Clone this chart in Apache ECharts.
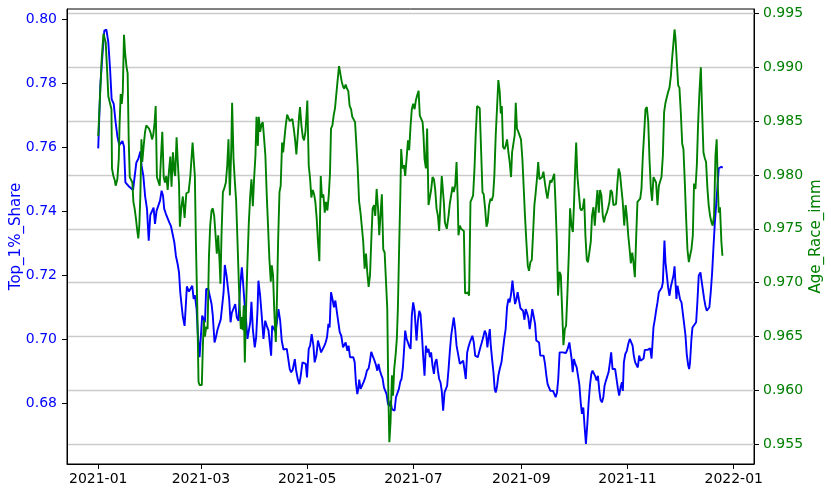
<!DOCTYPE html>
<html>
<head>
<meta charset="utf-8">
<script src="https://cdn.jsdelivr.net/npm/echarts@6/dist/echarts.min.js"></script>
<style>html,body{margin:0;padding:0;background:#fff}#c{width:831px;height:493px}</style>
</head>
<body>
<div id="c"></div>
<script>
// Day offsets are counted from 2021-01-01
const startDate = '2021-01-01';
const xTickLabels = ['2021-01','2021-03','2021-05','2021-07','2021-09','2021-11','2022-01'];
const leftTicks = [0.68, 0.70, 0.72, 0.74, 0.76, 0.78, 0.80];
const rightTicks = [0.955, 0.960, 0.965, 0.970, 0.975, 0.980, 0.985, 0.990, 0.995];
const leftName = 'Top_1%_Share';
const rightName = 'Age_Race_imm';

// Top_1%_Share: [dayOffset, value]
const top1Share = [
[0,0.7596],[1.2,0.7792],[2.4,0.7886],[3.5,0.7964],[4.7,0.7967],[5.8,0.7927],[6.8,0.7844],[7.7,0.775],[8.9,0.7735],[10.0,0.7677],
[11.0,0.7634],[12.1,0.7606],[12.9,0.7602],[13.9,0.7619],[14.8,0.7602],[15.6,0.749],[16.5,0.7492],[17.5,0.7478],[18.6,0.7473],[20.0,0.7466],
[21.1,0.747],[21.9,0.7552],[23.0,0.7563],[24.2,0.7586],[24.9,0.7542],[25.9,0.7511],[26.9,0.7448],[28.0,0.7407],[29.0,0.7308],[29.9,0.7388],
[30.9,0.7391],[31.8,0.7411],[32.6,0.736],[33.5,0.7401],[34.5,0.7407],[35.5,0.7433],[36.4,0.7464],[37.2,0.7449],[37.9,0.7407],[38.9,0.7391],
[39.9,0.7394],[40.8,0.7365],[41.8,0.7353],[42.9,0.7355],[43.7,0.7303],[44.6,0.7261],[45.6,0.7235],[46.4,0.7209],[47.1,0.7147],[47.9,0.7105],
[48.6,0.707],[49.6,0.7042],[50.4,0.7115],[50.9,0.7165],[52.1,0.7149],[53.2,0.7152],[54.0,0.7167],[54.8,0.7126],[55.5,0.7138],[56.5,0.7094],
[57.2,0.7016],[58.2,0.6944],[59.0,0.6944],[59.7,0.7074],[60.5,0.7068],[61.3,0.7053],[62.0,0.7157],[63.2,0.7157],[64.1,0.7162],[65.1,0.711],
[65.8,0.7074],[66.8,0.699],[67.6,0.7006],[68.5,0.703],[69.5,0.703],[70.4,0.7063],[71.2,0.7105],[72.0,0.7147],[72.7,0.7232],[73.7,0.7199],
[74.6,0.7199],[75.2,0.7126],[76.0,0.7053],[76.7,0.7082],[77.7,0.7086],[78.7,0.711],[79.6,0.7068],[80.6,0.7058],[81.5,0.7167],[82.5,0.7225],
[83.2,0.7176],[84.0,0.7115],[84.8,0.7068],[85.7,0.7001],[86.5,0.7003],[87.3,0.7053],[88.0,0.7117],[88.8,0.7032],[89.9,0.6975],[90.7,0.7006],
[91.5,0.7094],[92.0,0.7183],[93.0,0.7136],[93.9,0.7074],[94.9,0.7001],[95.9,0.7058],[96.8,0.7042],[97.8,0.7027],[98.7,0.7032],[99.3,0.6949],
[99.9,0.7042],[100.8,0.7048],[101.8,0.7024],[102.5,0.7048],[103.5,0.7094],[104.5,0.7058],[105.4,0.6996],[106.4,0.6968],[107.3,0.697],[108.3,0.697],
[109.2,0.6964],[110.0,0.6907],[110.8,0.6897],[111.7,0.6905],[112.9,0.6938],[113.6,0.6905],[114.6,0.6876],[115.5,0.686],[116.3,0.6886],[117.3,0.6928],
[118.2,0.6933],[119.2,0.6923],[119.9,0.6881],[120.9,0.697],[121.7,0.698],[122.6,0.7016],[123.6,0.698],[124.3,0.6928],[125.3,0.6949],[126.2,0.6996],
[127.0,0.698],[128.0,0.6959],[128.9,0.6964],[129.9,0.698],[130.6,0.699],[131.4,0.7006],[132.2,0.7048],[132.9,0.7037],[133.7,0.7147],[134.7,0.7121],
[135.4,0.71],[136.2,0.7121],[137.1,0.7084],[137.9,0.7089],[138.7,0.7022],[139.6,0.7011],[140.6,0.6975],[141.3,0.6975],[142.1,0.699],[143.1,0.6964],
[143.8,0.698],[144.6,0.6944],[145.4,0.694],[146.5,0.6944],[147.3,0.6928],[148.0,0.6865],[148.8,0.6829],[149.4,0.6845],[149.9,0.6874],[150.7,0.6845],
[151.5,0.6847],[152.4,0.6866],[153.4,0.6881],[154.3,0.6902],[155.3,0.6909],[156.1,0.6933],[156.8,0.6961],[157.6,0.6949],[158.5,0.6936],[159.5,0.692],
[160.3,0.6902],[161.0,0.6923],[161.8,0.6902],[162.6,0.6888],[163.3,0.6878],[164.1,0.685],[164.9,0.6855],[165.6,0.6829],[166.4,0.6798],[167.2,0.6791],
[167.9,0.6808],[168.7,0.6782],[169.4,0.6787],[170.2,0.6777],[171.0,0.6819],[171.9,0.6819],[172.7,0.6845],[173.5,0.6868],[174.2,0.6876],[175.0,0.6912],
[175.8,0.698],[176.3,0.7027],[177.1,0.7001],[177.9,0.699],[178.6,0.6978],[179.4,0.697],[180.1,0.7074],[180.9,0.7115],[181.7,0.7089],[182.8,0.6996],
[183.6,0.7058],[184.4,0.7089],[185.1,0.7079],[185.9,0.7016],[186.6,0.6949],[187.4,0.6886],[188.2,0.698],[188.9,0.6959],[189.7,0.697],[190.5,0.6944],
[191.2,0.6959],[192.0,0.6918],[192.8,0.6892],[193.5,0.6928],[194.3,0.6938],[195.1,0.6902],[195.8,0.6876],[196.6,0.6865],[197.3,0.6839],[198.1,0.6777],
[198.9,0.6834],[199.6,0.684],[200.4,0.6855],[201.2,0.6907],[201.9,0.6959],[202.7,0.7011],[203.5,0.7042],[204.2,0.7068],[205.0,0.7032],[205.8,0.698],
[206.7,0.698],[207.7,0.6923],[208.6,0.6923],[209.6,0.6933],[210.3,0.6907],[211.1,0.6876],[211.9,0.6959],[212.6,0.6975],[213.4,0.699],[214.2,0.7001],
[214.9,0.7011],[215.7,0.699],[216.5,0.6949],[217.2,0.6954],[218.0,0.6944],[218.8,0.6944],[219.5,0.6975],[220.3,0.699],[221.1,0.7006],[222.0,0.7027],
[222.8,0.7016],[223.5,0.6975],[224.1,0.7001],[224.9,0.7032],[225.4,0.6985],[226.2,0.6938],[227.0,0.6897],[227.7,0.6845],[228.3,0.6834],[229.1,0.6855],
[229.8,0.6886],[230.6,0.6907],[231.6,0.6928],[232.5,0.697],[233.3,0.7006],[234.0,0.7032],[234.8,0.71],[235.6,0.7126],[236.3,0.7115],[237.1,0.7141],
[237.9,0.7183],[238.6,0.7147],[239.4,0.711],[240.2,0.7126],[240.9,0.7147],[241.7,0.7121],[242.5,0.7097],[243.2,0.7102],[244.0,0.7089],[244.8,0.7061],
[245.5,0.7094],[246.3,0.7082],[247.0,0.7068],[247.8,0.7032],[248.6,0.7063],[249.3,0.7094],[250.1,0.71],[250.9,0.7048],[251.6,0.6996],[252.4,0.699],
[253.2,0.699],[253.9,0.6949],[254.9,0.6949],[255.8,0.6949],[256.6,0.6923],[257.4,0.6886],[258.1,0.686],[259.1,0.686],[259.7,0.6839],[260.4,0.6845],
[261.2,0.6839],[262.0,0.6829],[262.7,0.6819],[263.5,0.6834],[264.2,0.6876],[265.0,0.6959],[265.8,0.6964],[266.7,0.6959],[267.7,0.6959],[268.6,0.6957],
[269.6,0.697],[270.6,0.699],[271.3,0.699],[271.9,0.6938],[272.5,0.6897],[273.2,0.6938],[274.0,0.6923],[274.8,0.6912],[275.5,0.6907],[276.3,0.686],
[277.1,0.6803],[277.8,0.6767],[278.6,0.6787],[279.3,0.673],[280.1,0.6673],[280.9,0.6735],[281.6,0.6798],[282.4,0.6855],[283.2,0.6892],[283.9,0.6902],
[284.7,0.6902],[285.5,0.6884],[286.2,0.6871],[287.0,0.6886],[287.8,0.6839],[288.5,0.6811],[289.3,0.6803],[290.1,0.6819],[290.8,0.6855],[291.6,0.6871],
[292.3,0.6866],[293.1,0.6897],[293.9,0.6928],[294.6,0.6959],[295.4,0.6907],[296.2,0.6902],[296.9,0.6907],[297.7,0.6876],[298.5,0.6845],[299.2,0.6824],
[300.0,0.685],[300.8,0.6866],[301.3,0.6839],[301.9,0.6928],[302.7,0.6954],[303.6,0.6964],[304.4,0.6985],[305.3,0.7001],[306.1,0.7006],[306.9,0.698],
[307.6,0.6949],[308.4,0.6928],[309.2,0.6926],[309.9,0.6912],[310.7,0.6949],[311.5,0.6933],[312.4,0.6933],[313.2,0.694],[313.9,0.6967],[314.7,0.6964],
[315.5,0.6967],[316.2,0.6964],[317.0,0.6972],[317.8,0.694],[318.9,0.7037],[319.7,0.7063],[320.4,0.7089],[321.2,0.7115],[322.0,0.7147],[322.7,0.7152],
[323.7,0.7162],[324.3,0.7178],[325.2,0.7308],[325.8,0.724],[326.6,0.7199],[327.3,0.7162],[328.1,0.7136],[328.9,0.7165],[329.6,0.7165],[330.4,0.7199],
[331.0,0.7228],[331.5,0.718],[332.1,0.7126],[332.7,0.7167],[333.4,0.7147],[334.2,0.7124],[335.0,0.7115],[335.7,0.7084],[336.5,0.7048],[337.3,0.7011],
[338.0,0.6954],[338.8,0.692],[339.4,0.6907],[339.9,0.6928],[340.7,0.7001],[341.3,0.7037],[342.2,0.7042],[343.4,0.7053],[344.1,0.7115],[344.9,0.7199],
[345.9,0.7209],[346.4,0.7188],[347.2,0.7157],[348.0,0.7126],[348.7,0.7105],[349.5,0.7089],[350.3,0.7084],[351.0,0.71],[351.8,0.7147],[352.6,0.7209],
[353.3,0.7282],[354.1,0.736],[354.8,0.7412],[355.6,0.7474],[356.4,0.7534],[357.1,0.754],[357.9,0.7538],[358.7,0.7536]
];

// Age_Race_imm: [dayOffset, value]
const ageRaceImm = [
[0,0.9836],[1.0,0.9836],[2.0,0.9908],[3.0,0.9931],[3.5,0.9932],[4.3,0.9923],[5.1,0.9897],[5.8,0.9873],[6.8,0.9872],[7.6,0.9861],
[7.9,0.9806],[8.7,0.9799],[9.5,0.9795],[10.0,0.979],[11.0,0.9796],[11.8,0.9815],[12.3,0.9849],[12.9,0.9875],[13.5,0.9866],[14.1,0.9877],
[14.8,0.993],[15.4,0.9914],[16.2,0.9901],[16.9,0.9894],[17.5,0.9833],[18.1,0.9798],[18.8,0.9797],[19.6,0.9793],[20.2,0.9775],[20.9,0.9769],
[21.7,0.9759],[22.3,0.975],[23.0,0.9741],[23.6,0.9753],[24.2,0.9781],[24.8,0.9833],[25.3,0.9812],[26.1,0.9827],[26.9,0.984],[27.6,0.9846],
[28.4,0.9845],[29.2,0.9843],[30.1,0.9839],[30.9,0.9833],[31.6,0.9837],[32.4,0.9849],[33.0,0.9864],[33.7,0.9798],[34.5,0.9798],[35.3,0.979],
[36.0,0.9815],[36.8,0.984],[37.6,0.9798],[38.3,0.9793],[39.1,0.9799],[39.9,0.9786],[40.6,0.9803],[41.4,0.9817],[42.1,0.9789],[42.9,0.9821],
[43.7,0.9803],[44.2,0.9799],[45.0,0.9835],[45.8,0.9809],[46.4,0.9792],[46.9,0.9752],[47.7,0.9769],[48.6,0.978],[49.6,0.976],[50.6,0.9783],
[51.9,0.9784],[52.9,0.9799],[53.6,0.9816],[54.2,0.983],[55.0,0.983],[55.5,0.9799],[56.1,0.9738],[56.9,0.9676],[57.6,0.9608],[58.2,0.9605],
[59.0,0.9606],[59.5,0.9605],[60.1,0.9642],[60.7,0.9665],[61.3,0.965],[62.0,0.9659],[62.8,0.9657],[63.6,0.9725],[64.3,0.9753],[65.1,0.9767],
[65.8,0.9769],[66.6,0.9762],[67.4,0.9744],[68.1,0.9727],[68.9,0.9744],[69.7,0.9719],[70.2,0.9699],[70.8,0.9744],[71.6,0.9784],[72.3,0.9787],
[73.3,0.9793],[74.1,0.9809],[74.8,0.9833],[75.6,0.9781],[76.4,0.9824],[76.9,0.9867],[77.7,0.9815],[78.5,0.9793],[79.2,0.9776],[80.0,0.9738],
[80.8,0.9697],[81.3,0.9676],[81.9,0.9657],[82.5,0.9668],[83.0,0.9656],[83.6,0.9679],[84.2,0.9626],[85.0,0.9682],[85.7,0.9719],[86.5,0.9756],
[87.3,0.9781],[88.0,0.9796],[88.8,0.9771],[89.5,0.9796],[90.3,0.9818],[90.9,0.9854],[91.7,0.9827],[92.2,0.9854],[93.0,0.984],[93.8,0.9847],
[94.5,0.9849],[95.3,0.9833],[96.0,0.9818],[96.8,0.9781],[97.6,0.975],[98.3,0.9722],[99.1,0.9701],[99.7,0.9716],[100.4,0.9707],[101.2,0.967],
[102.0,0.9645],[102.7,0.9688],[103.3,0.9738],[104.1,0.9784],[104.8,0.979],[105.6,0.983],[106.2,0.9821],[106.9,0.9833],[107.7,0.9846],[108.5,0.9856],
[109.2,0.9855],[110.0,0.985],[110.8,0.985],[111.5,0.9852],[112.3,0.9843],[113.1,0.9832],[113.8,0.9819],[114.6,0.9837],[115.4,0.9855],[115.9,0.9863],
[116.7,0.9846],[117.5,0.9835],[118.2,0.9832],[119.0,0.984],[119.6,0.9855],[120.1,0.9869],[120.9,0.9809],[121.7,0.9796],[122.4,0.9779],[123.2,0.9786],
[124.0,0.9782],[124.7,0.9775],[125.5,0.9759],[126.2,0.9738],[127.0,0.972],[127.8,0.9799],[128.5,0.9779],[129.3,0.9782],[130.1,0.9765],[130.8,0.9775],
[131.6,0.9767],[132.4,0.9781],[133.1,0.9801],[133.7,0.9843],[134.5,0.9846],[135.2,0.9855],[136.0,0.9862],[136.8,0.9863],[137.5,0.9888],[138.3,0.9901],
[139.1,0.99],[139.8,0.9887],[140.6,0.9882],[141.3,0.988],[142.1,0.9884],[142.9,0.988],[143.6,0.9878],[144.4,0.9864],[145.2,0.9861],[145.9,0.9854],
[146.7,0.9854],[147.5,0.9849],[148.2,0.983],[149.0,0.9807],[149.8,0.9776],[150.7,0.9764],[151.5,0.9765],[152.2,0.9738],[153.0,0.9713],[153.8,0.9727],
[154.5,0.971],[155.3,0.9696],[156.1,0.9707],[156.8,0.9738],[157.6,0.9769],[158.4,0.9772],[159.1,0.9762],[159.9,0.9787],[160.7,0.9769],[161.4,0.9744],
[162.2,0.9765],[162.9,0.9782],[163.7,0.9731],[164.5,0.9728],[165.2,0.9728],[166.0,0.9676],[166.6,0.9599],[167.2,0.9552],[167.9,0.9571],[168.7,0.9614],
[169.3,0.9595],[170.0,0.962],[170.8,0.9633],[171.5,0.9648],[172.1,0.9676],[172.9,0.9738],[173.5,0.9781],[174.0,0.9824],[174.8,0.9806],[175.6,0.9809],
[176.3,0.9799],[177.1,0.9815],[177.9,0.9832],[178.6,0.9823],[179.4,0.9846],[180.1,0.9861],[180.9,0.9866],[181.7,0.9861],[182.4,0.9869],[183.2,0.9874],
[184.0,0.9878],[184.7,0.9855],[185.5,0.9852],[186.3,0.9849],[186.8,0.9837],[187.4,0.9815],[188.2,0.9806],[188.9,0.9843],[189.7,0.9772],[190.5,0.9772],
[191.2,0.9786],[192.0,0.9798],[192.8,0.9796],[193.5,0.9787],[194.3,0.9769],[195.1,0.9762],[195.8,0.9748],[196.6,0.9775],[197.3,0.9799],[197.9,0.9798],
[198.5,0.9775],[199.1,0.9756],[199.6,0.9753],[200.2,0.975],[201.2,0.9762],[201.9,0.9773],[202.7,0.9781],[203.5,0.9789],[204.2,0.9784],[205.0,0.979],
[205.8,0.9812],[206.5,0.9775],[206.9,0.9744],[207.7,0.9753],[208.4,0.975],[209.2,0.975],[210.0,0.9748],[210.7,0.969],[211.5,0.969],[212.3,0.9691],
[213.0,0.9688],[213.8,0.9775],[214.6,0.9778],[215.3,0.9781],[216.1,0.9806],[216.8,0.9837],[217.6,0.9864],[218.4,0.9863],[219.1,0.9862],[219.9,0.9861],
[220.7,0.9784],[221.4,0.9782],[222.2,0.9769],[223.0,0.9752],[223.7,0.9756],[224.5,0.9772],[225.3,0.9778],[226.0,0.9776],[226.8,0.9781],[227.5,0.9799],
[228.3,0.9837],[229.1,0.9864],[229.8,0.9888],[230.6,0.9877],[231.2,0.9857],[231.8,0.9864],[232.5,0.9826],[233.3,0.9824],[234.0,0.9827],[234.8,0.9833],
[235.6,0.9821],[236.3,0.9812],[237.1,0.9798],[237.7,0.9821],[238.4,0.982],[239.2,0.9837],[239.8,0.9867],[240.5,0.9843],[241.3,0.984],[242.1,0.9841],
[242.8,0.9833],[243.6,0.9815],[244.4,0.9787],[245.1,0.9762],[245.9,0.9738],[246.7,0.9716],[247.4,0.9711],[248.2,0.9719],[249.0,0.9721],[249.7,0.9744],
[250.5,0.9772],[251.1,0.9781],[251.9,0.9795],[252.7,0.9812],[253.4,0.9796],[254.2,0.9796],[255.0,0.9798],[255.7,0.9803],[256.5,0.9793],[257.3,0.9784],
[258.0,0.9778],[258.8,0.9787],[259.6,0.9795],[260.3,0.9793],[261.1,0.9793],[261.9,0.9801],[262.6,0.9775],[263.4,0.9738],[264.1,0.9688],[264.9,0.971],
[265.7,0.9707],[266.4,0.9676],[267.2,0.9642],[268.0,0.9657],[268.7,0.966],[269.5,0.9691],[270.3,0.9728],[271.0,0.9769],[271.8,0.9753],[272.6,0.9747],
[273.3,0.9775],[273.9,0.9806],[274.5,0.983],[275.2,0.9799],[276.0,0.9784],[276.8,0.9769],[277.5,0.9767],[278.3,0.9769],[279.1,0.9778],[279.8,0.9744],
[280.6,0.9721],[281.3,0.9719],[282.1,0.9718],[282.9,0.9738],[283.6,0.9762],[284.4,0.977],[285.2,0.9753],[285.9,0.977],[286.7,0.9786],[287.5,0.9765],
[288.2,0.9786],[289.0,0.9781],[289.8,0.9762],[290.5,0.9756],[291.3,0.9762],[292.1,0.9765],[292.8,0.9769],[293.6,0.9775],[294.3,0.9786],[295.1,0.9784],
[295.9,0.9772],[296.6,0.9772],[297.4,0.9773],[298.2,0.9793],[298.9,0.9806],[299.7,0.9801],[300.5,0.9787],[301.2,0.9776],[302.1,0.9753],[302.9,0.9772],
[303.6,0.9762],[304.4,0.9744],[305.2,0.9731],[305.9,0.9718],[306.7,0.9728],[307.4,0.9719],[308.2,0.9705],[309.0,0.9744],[309.7,0.9775],[310.5,0.9776],
[311.3,0.9778],[312.0,0.9787],[312.8,0.9818],[313.6,0.984],[314.3,0.9861],[315.1,0.9863],[315.9,0.9849],[316.6,0.9815],[317.4,0.9787],[318.1,0.9776],
[318.9,0.9798],[319.7,0.9798],[320.4,0.9793],[321.2,0.9772],[322.0,0.979],[322.7,0.9789],[323.5,0.9798],[324.3,0.9818],[325.0,0.9858],[325.8,0.9867],
[326.6,0.9867],[327.3,0.9877],[328.1,0.9881],[328.9,0.9892],[329.6,0.9908],[330.4,0.9923],[331.0,0.9935],[331.5,0.9928],[332.3,0.9905],[333.1,0.9883],
[333.8,0.9881],[334.6,0.9858],[335.4,0.9829],[336.1,0.9824],[336.9,0.9793],[337.6,0.9762],[338.4,0.9731],[339.2,0.9719],[339.9,0.9725],[340.7,0.9731],
[341.5,0.9744],[342.2,0.9792],[343.0,0.9787],[343.8,0.9809],[344.5,0.9846],[345.3,0.9877],[346.1,0.99],[346.8,0.9861],[347.6,0.9821],[348.3,0.9816],
[349.1,0.9812],[349.9,0.9787],[350.6,0.9772],[351.4,0.9762],[352.2,0.9756],[352.9,0.9753],[353.7,0.9762],[354.5,0.9818],[355.2,0.9833],[355.8,0.9793],
[356.4,0.9765],[357.1,0.977],[357.9,0.9738],[358.5,0.9725]
];

const DAY = 86400000;
const t0 = Date.parse(startDate + 'T00:00:00Z');
// month-start tick positions, expressed as day offsets from startDate
const xTickValues = xTickLabels.map(s => Math.round((Date.parse(s + '-01T00:00:00Z') - t0) / DAY));
const lastDay = top1Share[top1Share.length - 1][0];
const pad = lastDay * 0.05;

const FONT = 'DejaVu Sans';
const chart = echarts.init(document.getElementById('c'), null, {renderer: 'canvas'});
chart.setOption({
  animation: false,
  backgroundColor: '#ffffff',
  textStyle: {fontFamily: FONT},
  grid: {left: 67, right: 77, top: 9, bottom: 29, show: true, borderColor: '#000', borderWidth: 1,
         backgroundColor: 'transparent', containLabel: false, outerBoundsMode: 'none'},
  xAxis: {
    type: 'value',
    min: -pad,
    max: lastDay + pad,
    axisLine: {show: true, onZero: false, lineStyle: {color: '#000', width: 1}},
    axisTick: {show: true, length: 5, inside: false, lineStyle: {color: '#000'}, customValues: xTickValues},
    axisLabel: {
      customValues: xTickValues,
      color: '#000', fontSize: 14, fontFamily: FONT, margin: 8,
      formatter: v => { const i = xTickValues.indexOf(Math.round(v)); return i >= 0 ? xTickLabels[i] : ''; }
    },
    splitLine: {show: false}
  },
  yAxis: [
    {
      type: 'value', position: 'left',
      min: 0.66106, max: 0.80312,
      name: leftName, nameLocation: 'middle', nameGap: 43.5, nameRotate: 90, nameMoveOverlap: false,
      nameTextStyle: {color: '#0000ff', fontSize: 15, fontFamily: FONT},
      axisLine: {show: true, onZero: false, lineStyle: {color: '#000', width: 1}},
      axisTick: {show: true, length: 5, lineStyle: {color: '#000'}, customValues: leftTicks},
      axisLabel: {customValues: leftTicks, color: '#0000ff', fontSize: 14, fontFamily: FONT, margin: 10,
        formatter: v => v.toFixed(2)},
      splitLine: {show: false}
    },
    {
      type: 'value', position: 'right',
      min: 0.95317, max: 0.9954,
      name: rightName, nameLocation: 'middle', nameGap: 54.5, nameRotate: 90, nameMoveOverlap: false,
      nameTextStyle: {color: '#008000', fontSize: 15, fontFamily: FONT},
      axisLine: {show: true, onZero: false, lineStyle: {color: '#000', width: 1}},
      axisTick: {show: true, length: 5, lineStyle: {color: '#000'}, customValues: rightTicks},
      axisLabel: {customValues: rightTicks, color: '#008000', fontSize: 14, fontFamily: FONT, margin: 9,
        formatter: v => v.toFixed(3)},
      splitLine: {show: true, lineStyle: {color: '#cbcbcb', width: 1.3}}
    }
  ],
  series: [
    {
      name: leftName, type: 'line', yAxisIndex: 0, showSymbol: false, symbol: 'none',
      lineStyle: {color: '#0000ff', width: 1.9}, itemStyle: {color: '#0000ff'},
      data: top1Share, z: 3
    },
    {
      name: rightName, type: 'line', yAxisIndex: 1, showSymbol: false, symbol: 'none',
      lineStyle: {color: '#008000', width: 1.9}, itemStyle: {color: '#008000'},
      data: ageRaceImm, z: 4
    }
  ]
});
</script>
</body>
</html>
